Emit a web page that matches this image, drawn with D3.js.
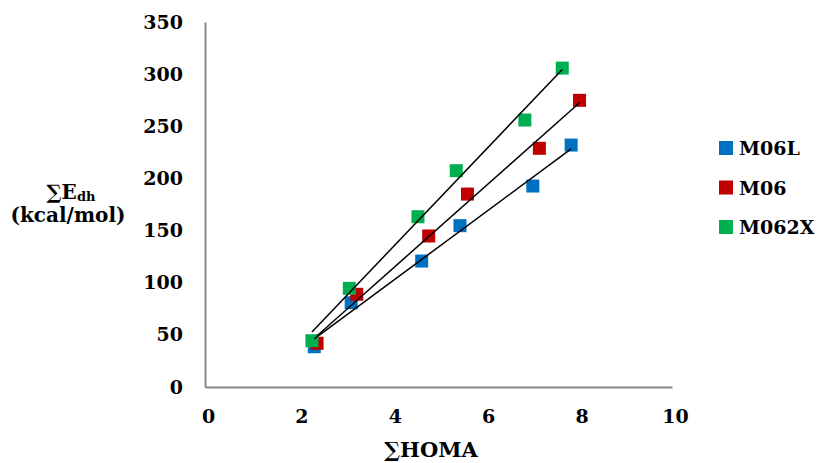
<!DOCTYPE html>
<html>
<head>
<meta charset="utf-8">
<script src="https://cdn.jsdelivr.net/npm/d3@7"></script>
<style>
  body { margin: 0; background: #fff; }
  text { font-family: "DejaVu Serif", serif; font-weight: bold; fill: #000; }
</style>
</head>
<body>
<svg width="819" height="463"></svg>
<script>
// values
const seriesNames = ["M06L", "M06", "M062X"];
const seriesColors = ["#0070C0", "#C00000", "#00B050"];

const homaM06L  = [2.34, 3.13, 4.64, 5.46, 7.02, 7.84];
const edhM06L   = [38.6, 80.8, 120.8, 154.7, 192.7, 232];
const homaM06   = [2.40, 3.25, 4.79, 5.62, 7.16, 8.02];
const edhM06    = [41.9, 88.9, 144.8, 185, 228.9, 274.9];
const homaM062X = [2.29, 3.09, 4.56, 5.38, 6.85, 7.65];
const edhM062X  = [44.4, 94.6, 163.3, 207.4, 256, 305.8];

const xTicks = [0, 2, 4, 6, 8, 10];
const yTicks = [0, 50, 100, 150, 200, 250, 300, 350];

const series = [
  {name: seriesNames[0], color: seriesColors[0], xs: homaM06L,  ys: edhM06L},
  {name: seriesNames[1], color: seriesColors[1], xs: homaM06,   ys: edhM06},
  {name: seriesNames[2], color: seriesColors[2], xs: homaM062X, ys: edhM062X}
];

const svg = d3.select("svg");

const x = d3.scaleLinear().domain([0, 10]).range([205, 672]);
const y = d3.scaleLinear().domain([0, 350]).range([387, 22]);

// axes (no tick marks, grey lines)
const axisX = svg.append("g")
  .attr("transform", `translate(0, ${y(0)})`)
  .call(d3.axisBottom(x).tickValues(xTicks).tickSize(0).tickPadding(23));
const axisY = svg.append("g")
  .attr("transform", `translate(${x(0)}, 0)`)
  .call(d3.axisLeft(y).tickValues(yTicks).tickSize(0).tickPadding(22));

[axisX, axisY].forEach(a => {
  a.select(".domain").attr("stroke", "#868686").attr("stroke-width", 2);
  a.selectAll("text").style("font-size", "19px").attr("fill", "#000")
    .style("font-family", "DejaVu Serif").style("font-weight", "bold");
});
axisX.selectAll("text").attr("dx", 3);

// linear trend lines over the data range
function fit(xs, ys) {
  const mx = d3.mean(xs), my = d3.mean(ys);
  let num = 0, den = 0;
  xs.forEach((v, i) => { num += (v - mx) * (ys[i] - my); den += (v - mx) ** 2; });
  const b = num / den;
  return v => my + b * (v - mx);
}

series.forEach(s => {
  const f = fit(s.xs, s.ys);
  const [x0, x1] = d3.extent(s.xs);
  s.trend = [[x0, f(x0)], [x1, f(x1)]];
});

// markers
const size = 13;
series.forEach(s => {
  svg.append("g").selectAll("rect")
    .data(s.xs.map((v, i) => [v, s.ys[i]]))
    .enter()
    .append("rect")
    .attr("x", d => x(d[0]) - size / 2)
    .attr("y", d => y(d[1]) - size / 2)
    .attr("width", size)
    .attr("height", size)
    .attr("fill", s.color);
});

const line = d3.line().x(d => x(d[0])).y(d => y(d[1]));
series.forEach(s => {
  svg.append("path")
    .attr("d", line(s.trend))
    .attr("fill", "none")
    .attr("stroke", "#000")
    .attr("stroke-width", 1.5);
});

// axis titles
svg.append("text")
  .attr("x", 431).attr("y", 457)
  .attr("text-anchor", "middle")
  .style("font-size", "21px")
  .text("∑HOMA");

const yt = svg.append("text")
  .attr("x", 71).attr("y", 199)
  .attr("text-anchor", "middle")
  .style("font-size", "20px");
yt.append("tspan").text("∑E");
yt.append("tspan").attr("dy", 2).style("font-size", "13px").text("dh");

svg.append("text")
  .attr("x", 68).attr("y", 222)
  .attr("text-anchor", "middle")
  .style("font-size", "20px")
  .text("(kcal/mol)");

// legend
const legend = svg.append("g").attr("transform", "translate(719, 148)");
series.forEach((s, i) => {
  const g = legend.append("g").attr("transform", `translate(0, ${i * 39.5})`);
  g.append("rect").attr("x", 0).attr("y", -7).attr("width", 14).attr("height", 14)
    .attr("fill", s.color);
  g.append("text").attr("x", 20).attr("y", 7).style("font-size", "19px").text(s.name);
});
</script>
</body>
</html>
